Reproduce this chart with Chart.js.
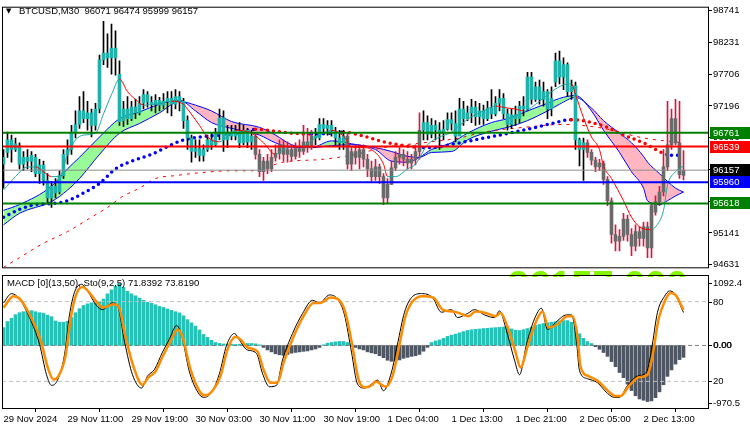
<!DOCTYPE html>
<html>
<head>
<meta charset="utf-8">
<title>BTCUSD M30</title>
<script src="https://cdn.jsdelivr.net/npm/chart.js@4.4.1/dist/chart.umd.min.js"></script>
<style>
  html, body { margin: 0; padding: 0; background: #fff; }
  #wrap { position: relative; width: 750px; height: 430px; overflow: hidden; }
  #priceCanvas { position: absolute; left: 0; top: 0; }
  #oscCanvas { position: absolute; left: 0; top: 274px; }
</style>
</head>
<body>
<div id="wrap">
  <canvas id="priceCanvas" width="750" height="274"></canvas>
  <canvas id="oscCanvas" width="750" height="156"></canvas>
</div>
<script>
// Values (BTCUSD M30, 171 bars)
const symbolTitle = 'BTCUSD,M30  96071 96474 95999 96157';
const oscTitle = 'MACD [0](13,50), Sto(9,2,5) 71.8392 73.8190';
const bigLabel = '96157.000';

const opens = [
  96256, 96444, 96647, 96491, 96553, 96256, 96365, 96303, 96365, 96100,
  96241, 95990, 95709, 95897, 95803, 96069, 96412, 96491, 96772, 96897,
  97116, 96991, 97085, 96881, 97147, 97944, 98054, 97975, 98132, 97710,
  96959, 97147, 96991, 97178, 97085, 97241, 97381, 97256, 97225, 97288,
  97210, 97272, 97319, 97225, 97350, 97272, 96959, 96678, 96459, 96506,
  96397, 96491, 96647, 96569, 96741, 97006, 96647, 96772, 96709, 96788,
  96600, 96803, 96616, 96709, 96412, 96131, 96303, 96178, 96365, 96428,
  96569, 96412, 96491, 96381, 96506, 96459, 96616, 96522, 96709, 96678,
  96897, 96834, 96881, 96788, 96678, 96600, 96709, 96256, 96459, 96365,
  96491, 96334, 96178, 96053, 96209, 96053, 95709, 95928, 96194, 96365,
  96412, 96334, 96272, 96334, 96459, 96803, 96928, 96741, 96881, 96803,
  96756, 96819, 96975, 96913, 96709, 97147, 96991, 97085, 97178, 97022,
  97116, 96991, 97163, 97069, 97241, 97319, 97069, 96897, 97053, 96991,
  97194, 97147, 97663, 97303, 97507, 97303, 97428, 97147, 97585, 97928,
  97663, 97866, 97428, 97522, 96647, 96491, 96600, 96444, 96319, 96209,
  96272, 96006, 95662, 95115, 95006, 95084, 95365, 95115, 94928, 95162,
  95053, 95240, 94896, 95475, 95647, 95803, 96209, 96569, 96991, 96600,
  96071
];
const highs = [
  96491, 96772, 96725, 96678, 96600, 96459, 96491, 96459, 96412, 96334,
  96303, 96100, 95975, 96022, 96147, 96491, 96647, 96881, 97116, 97350,
  97428, 97272, 97147, 97241, 98022, 98569, 98366, 98522, 98413, 97928,
  97272, 97350, 97272, 97303, 97350, 97460, 97428, 97350, 97381, 97335,
  97397, 97428, 97428, 97460, 97428, 97319, 97037, 96725, 96647, 96647,
  96569, 96725, 96756, 96834, 97147, 97116, 96881, 96881, 96881, 96928,
  96881, 96834, 96803, 96756, 96491, 96365, 96412, 96491, 96569, 96647,
  96647, 96616, 96569, 96600, 96647, 96881, 96834, 96803, 96834, 96991,
  96991, 96959, 96959, 96850, 96803, 96803, 96756, 96522, 96569, 96569,
  96569, 96412, 96303, 96334, 96256, 96100, 96022, 96303, 96459, 96522,
  96491, 96459, 96412, 96569, 97085, 97116, 97037, 96991, 96959, 96928,
  96959, 97085, 97085, 97116, 97319, 97272, 97194, 97303, 97272, 97241,
  97210, 97272, 97460, 97350, 97460, 97397, 97147, 97147, 97194, 97272,
  97350, 97741, 97741, 97585, 97616, 97585, 97460, 97507, 98054, 98085,
  97975, 97897, 97616, 97585, 96678, 96678, 96647, 96491, 96365, 96334,
  96303, 96053, 95709, 95271, 95193, 95459, 95428, 95209, 95271, 95240,
  95318, 95318, 95631, 95740, 95897, 96491, 97272, 97147, 97303, 97272,
  96474
];
const lows = [
  95865, 96365, 96287, 96459, 96178, 96147, 96178, 96131, 96053, 95943,
  95912, 95615, 95553, 95709, 95772, 96022, 96256, 96412, 96678, 96834,
  96928, 96803, 96694, 96803, 97085, 97866, 97819, 97710, 97694, 96881,
  96866, 96897, 96959, 96991, 97053, 97147, 97178, 97116, 97085, 97116,
  97147, 97085, 97037, 97147, 97116, 96834, 96491, 96287, 96365, 96303,
  96303, 96459, 96491, 96537, 96647, 96459, 96522, 96647, 96647, 96522,
  96569, 96522, 96491, 96334, 96053, 95990, 96100, 96131, 96303, 96334,
  96303, 96287, 96303, 96334, 96365, 96412, 96444, 96491, 96569, 96647,
  96756, 96725, 96709, 96569, 96491, 96491, 96178, 96147, 96256, 96178,
  96209, 96053, 95975, 95990, 95943, 95600, 95631, 95928, 96147, 96256,
  96225, 96178, 96178, 96241, 96334, 96647, 96647, 96678, 96647, 96491,
  96647, 96803, 96803, 96616, 96803, 96881, 96959, 96928, 96881, 96897,
  96897, 96959, 96991, 97037, 97116, 96991, 96803, 96834, 96881, 96928,
  97037, 97116, 97225, 97272, 97225, 97194, 96991, 97037, 97507, 97553,
  97460, 97350, 97303, 96491, 96225, 95990, 96365, 96241, 96131, 96147,
  95928, 95584, 94974, 94850, 94850, 95021, 95006, 94771, 94850, 94928,
  94928, 94740, 94740, 95428, 95584, 95740, 96147, 96491, 96569, 96022,
  95999
];
const closes = [
  96365, 96647, 96491, 96584, 96256, 96365, 96303, 96397, 96100, 96241,
  95990, 95709, 95897, 95787, 96069, 96412, 96491, 96772, 96897, 97116,
  96991, 97085, 96881, 97147, 97944, 98054, 97975, 98132, 97975, 96944,
  97147, 96991, 97178, 97085, 97241, 97381, 97256, 97225, 97288, 97210,
  97272, 97319, 97225, 97350, 97272, 96959, 96678, 96459, 96506, 96397,
  96491, 96647, 96569, 96741, 97006, 96647, 96772, 96709, 96788, 96600,
  96803, 96616, 96709, 96412, 96131, 96303, 96178, 96365, 96428, 96569,
  96412, 96491, 96381, 96506, 96459, 96616, 96522, 96709, 96678, 96897,
  96834, 96881, 96788, 96678, 96600, 96709, 96256, 96459, 96365, 96491,
  96334, 96178, 96053, 96209, 96053, 95709, 95928, 96194, 96365, 96412,
  96334, 96272, 96334, 96459, 96803, 96928, 96741, 96881, 96803, 96756,
  96819, 96975, 96913, 96709, 97147, 96991, 97085, 97178, 97022, 97116,
  96991, 97163, 97069, 97241, 97319, 97069, 96897, 97053, 96991, 97194,
  97147, 97663, 97303, 97507, 97303, 97428, 97147, 97319, 97928, 97663,
  97866, 97428, 97522, 96647, 96491, 96600, 96444, 96319, 96209, 96272,
  96006, 95662, 95115, 95006, 95084, 95365, 95115, 94928, 95162, 95053,
  95240, 94896, 95584, 95647, 95803, 96209, 96569, 96991, 96600, 96084,
  96157
];

// trend filter that paints the candles: [first bar, uptrend]
const trendRuns = [[0, true], [63, false], [78, true], [86, false], [105, true], [146, false]];

// indicator lines, [bar index, price]
const fastMA = [[0,95834],[3,96053],[6,96209],[8,96209],[10,96131],[12,96053],[14,96053],[16,96412],[18,96647],[20,96725],
  [23,96756],[25,97069],[27,97381],[29,97631],[31,97428],[33,97303],[35,97210],[38,97225],[42,97272],[45,97225],
  [46,97147],[49,96881],[51,96694],[54,96616],[58,96803],[62,96756],[65,96600],[68,96412],[70,96491],[73,96537],
  [75,96553],[78,96678],[82,96803],[85,96709],[87,96537],[90,96522],[92,96491],[95,96256],[96,96053],[98,96053],
  [101,96178],[103,96256],[106,96569],[109,96694],[112,96772],[114,96881],[117,97022],[120,97116],[123,97194],[126,97163],
  [128,97147],[130,97116],[134,97272],[137,97428],[140,97538],[142,97553],[143,97381],[145,97006],[147,96694],[149,96491],
  [150,96225],[152,96022],[155,95662],[157,95396],[159,95240],[162,95193],[163,95240],[165,95506],[166,95912],[168,96131],
  [170,96225]];
const bandFast = [[0,95506],[4,95600],[12,95897],[16,96178],[19,96365],[24,96694],[29,96991],[34,97100],[39,97225],[44,97288],
  [48,97116],[52,96928],[57,96834],[64,96725],[68,96600],[72,96522],[77,96522],[82,96631],[87,96584],[93,96491],
  [97,96303],[101,96287],[104,96365],[107,96491],[112,96600],[116,96756],[122,96928],[126,96991],[131,97116],[136,97241],
  [139,97319],[143,97366],[147,97116],[150,96803],[154,96444],[157,96131],[160,95865],[161,95662],[164,95600],[166,95662],
  [168,95740],[170,95803]];
const bandSlow = [[0,95271],[4,95459],[12,95647],[16,95834],[19,96022],[24,96412],[29,96756],[34,96913],[39,97085],[44,97272],
  [48,97210],[52,97116],[57,96944],[64,96850],[68,96725],[72,96569],[77,96522],[82,96553],[87,96569],[93,96522],
  [97,96459],[101,96381],[104,96365],[107,96444],[112,96459],[116,96647],[122,96788],[126,96850],[131,96959],[136,97116],
  [139,97225],[143,97335],[147,97163],[150,96959],[154,96756],[157,96600],[160,96381],[161,96287],[164,96100],[166,95975],
  [168,95865],[170,95803]];
const dotMA = [[0,95396],[4,95521],[8,95600],[12,95615],[16,95662],[20,95787],[24,95943],[28,96178],[32,96303],[37,96412],
  [41,96537],[45,96647],[49,96694],[54,96725],[59,96756],[63,96819],[66,96803],[72,96756],[77,96741],[82,96756],
  [85,96772],[90,96709],[95,96616],[102,96537],[105,96522],[109,96537],[114,96600],[119,96662],[124,96725],[132,96834],
  [137,96913],[142,96975],[145,96959],[147,96928],[151,96850],[155,96725],[160,96600],[164,96459],[167,96397],[170,96397]];
const longMA = [[0,94584],[4,94740],[10,94974],[16,95162],[22,95396],[26,95553],[30,95740],[34,95865],[38,96022],[43,96069],
  [49,96115],[57,96147],[62,96147],[70,96287],[80,96334],[88,96412],[95,96522],[107,96616],[114,96678],[120,96772],
  [130,96850],[140,96897],[150,96834],[160,96678],[170,96600]];

const levelValues = [96761, 96539, 96157, 95960, 95618];
const priceTicks = [98741, 98231, 97706, 97196, 96686, 96161, 95651, 95141, 94631];

const macdHist = [
  277, 370, 420, 477, 508, 523, 530, 539, 523, 508,
  500, 470, 446, 380, 360, 360, 375, 431, 508, 570,
  620, 645, 662, 662, 677, 720, 800, 862, 920, 965,
  900, 840, 800, 770, 735, 700, 670, 655, 631, 605,
  590, 565, 545, 523, 505, 460, 400, 350, 300, 240,
  170, 125, 80, 46, 31, 23, 20, 18, 15, 18,
  25, 30, 30, 25, 10, -31, -70, -100, -130, -145,
  -154, -140, -120, -108, -100, -92, -85, -70, -55, -31,
  10, 35, 46, 55, 62, 62, 45, 20, -31, -55,
  -70, -100, -115, -130, -160, -190, -230, -246, -240, -225,
  -200, -185, -170, -160, -140, -90, -30, 45, 70, 85,
  110, 140, 160, 175, 195, 215, 232, 242, 250, 255,
  262, 266, 272, 276, 280, 285, 292, 256, 235, 232,
  245, 262, 282, 310, 325, 340, 352, 360, 368, 380,
  385, 385, 360, 290, 180, 110, 60, 30, -20, -60,
  -110, -170, -250, -330, -420, -500, -600, -700, -780, -830,
  -850, -870, -860, -810, -720, -610, -480, -380, -290, -220,
  -185
];
const macdRange = [-970.5, 1092.4];

// stochastic, [bar index, value]
const stochMain = [[0,79],[2,86],[4,82],[6.5,68],[9,48],[10.75,25],[12,17],[13.5,21],[15.25,40],[16.5,70],
  [17.75,87],[19.5,93],[21,88],[23.25,77],[24.75,74],[27.25,79],[28.5,77],[30.25,50],[32.25,25],[34.5,15],
  [36,24],[37.75,29],[39.75,42],[41.5,52],[43.25,62],[44.5,55],[46.5,27],[49,10],[50.25,8],[52.25,13],
  [54,26],[55.75,47],[57.75,56],[59,51],[60.75,44],[63.25,41],[64.75,26],[66.5,16],[68.25,17],[69.75,36],
  [72.25,56],[74.75,71],[77.25,81],[79,79],[81.5,85],[83.5,82],[85.25,70],[87,42],[88.5,18],[90.25,15],
  [92,18],[93.5,21],[95,13],[97,27],[98.5,48],[100.25,72],[102,83],[104.5,86],[107.25,83],[109.5,72],
  [112,74],[113.5,68],[116,71],[117.75,74],[120.25,70],[122.75,68],[124,73],[125.75,58],[127.75,36],[129,25],
  [130.75,48],[132.75,67],[134.5,75],[136,59],[138.25,65],[140.75,70],[142,70],[143.25,50],[144,28],[146,22],
  [148.5,19],[151,11],[152.75,8],[154,8],[156,17],[158.5,24],[160.75,27],[162,44],[163.5,72],[165.25,84],
  [166.5,88],[167.75,86],[170,71.8]];
const stochSignal = [[0,75.5],[2.5,84],[4.25,81.5],[6.75,69],[9.25,51.5],[11,31],[12.5,21.5],[13.75,24],[15.5,39],[16.75,66.5],
  [18,84],[19.75,91],[21.25,87.5],[23.5,79],[25,75.5],[27.5,78],[28.75,76.5],[30.5,53.5],[32.5,31],[34.75,17.5],
  [36.25,23],[38,27.5],[40,40],[41.75,50],[43.5,59],[44.75,53.5],[46.75,29],[49.25,11.5],[50.5,9.5],[52.5,14],
  [54.25,24],[56,44],[58,53.5],[59.25,51.5],[61,45.5],[63.5,42.5],[65,29],[66.75,19],[68.5,19],[70,34],
  [72.5,53.5],[75,69],[77.5,79],[79.25,79],[81.75,83],[83.75,81.5],[85.5,71.5],[87.25,46],[88.75,21.5],[90.5,15.5],
  [92.25,17.5],[93,20],[95.5,16],[97.25,24],[98.75,44],[100.5,69],[102.25,80],[104.75,84],[107.5,83],[109.75,74],
  [112.25,72.5],[113.75,71.5],[116.25,69],[118,72.5],[120.5,71.5],[123,69],[124.25,71.5],[126,61],[128,42],[129.25,30.5],
  [131,46],[133,64],[134.75,72.5],[136.25,60.5],[138.5,63],[141,69],[142.25,69],[143.5,53.5],[144.25,31],[146.25,24],
  [148.75,20],[151.25,12.5],[153,9],[154.25,9],[156.25,16],[158.75,23],[161,25],[162.25,39],[163.75,66.5],[165.5,81.5],
  [166.75,86.5],[168,85],[170,73.8]];
const stochLevels = [80, 20];

const timeLabels = ['29 Nov 2024', '29 Nov 11:00', '29 Nov 19:00', '30 Nov 03:00', '30 Nov 11:00', '30 Nov 19:00',
  '1 Dec 04:00', '1 Dec 13:00', '1 Dec 21:00', '2 Dec 05:00', '2 Dec 13:00'];
const timeTickIdx = [0, 16, 32, 48, 64, 80, 96, 112, 128, 144, 160];

// ---- styling ----
const FONT_FAMILY = '"Liberation Sans", Arial, sans-serif';
const FONT_SIZE = 9.5;
const TEAL = '#20b2aa', DIM = '#6a6a6a', CRIMSON = '#dc143c';
const levelColors = ['#008000', '#ff0000', '#8c8c8c', '#0000ff', '#008000'];
const levelWidths = [2, 2, 1, 2, 2];
const levelBoxColors = ['#008000', '#ff0000', '#000000', '#0000ff', '#008000'];
const X_MIN = -0.375, X_MAX = 176.125;
const BIG_FONT = 'bold 38px "Liberation Sans", Arial, sans-serif';
const BIG_TOP = 269; // page y of the clipped lime label's top

const pts = arr => arr.map(([x, y]) => ({ x, y }));

function isUp(i) {
  let up = true;
  trendRuns.forEach(([start, flag]) => { if (i >= start) up = flag; });
  return up;
}

// big lime label that MT4 left mostly outside the visible window
function drawBigLabel(ctx, offsetY, clipTop, clipBottom) {
  ctx.save();
  ctx.beginPath();
  ctx.rect(2, clipTop, 706, clipBottom - clipTop);
  ctx.clip();
  ctx.font = BIG_FONT;
  ctx.fillStyle = '#84f500';
  ctx.textBaseline = 'top';
  ctx.fillText(bigLabel, 508, BIG_TOP - offsetY);
  ctx.restore();
}

// ---- price window ----
const priceDecor = {
  id: 'priceDecor',
  afterDraw(chart) {
    const { ctx, chartArea: a, scales } = chart;
    drawBigLabel(ctx, 0, 262, 274);
    ctx.save();
    ctx.strokeStyle = '#000';
    ctx.lineWidth = 1;
    ctx.strokeRect(a.left + 0.5, a.top + 0.5, a.right - a.left, a.bottom - a.top);

    ctx.fillStyle = '#000';
    ctx.textBaseline = 'middle';
    ctx.font = '7px "DejaVu Sans", sans-serif';
    ctx.fillText('\u25BC', 6, 11);
    ctx.font = FONT_SIZE + 'px ' + FONT_FAMILY;
    ctx.fillText(symbolTitle, 19, 11);

    levelValues.forEach((v, k) => {
      const y = Math.round(scales.y.getPixelForValue(v));
      ctx.fillStyle = levelBoxColors[k];
      ctx.fillRect(710, y - 6, 40, 12);
      ctx.fillStyle = '#fff';
      ctx.fillText(String(v), 713, y + 0.5);
    });
    ctx.restore();
  }
};

const levelSets = levelValues.map((v, k) => ({
  type: 'line',
  data: [{ x: X_MIN, y: v }, { x: X_MAX, y: v }],
  borderColor: levelColors[k],
  borderWidth: levelWidths[k],
  pointRadius: 0,
  order: 1
}));

new Chart(document.getElementById('priceCanvas'), {
  type: 'bar',
  data: {
    datasets: [
      {
        type: 'line', data: pts(bandFast), borderColor: '#0000ff', borderWidth: 1, pointRadius: 0,
        cubicInterpolationMode: 'monotone',
        fill: { target: '+1', above: 'rgb(152,251,152)', below: 'rgb(255,182,193)' }, order: 30
      },
      {
        type: 'line', data: pts(bandSlow), borderColor: '#0000ff', borderWidth: 1, pointRadius: 0,
        cubicInterpolationMode: 'monotone', fill: false, order: 29
      },
      {
        type: 'line', data: pts(longMA), borderColor: '#ff0000', borderWidth: 1, borderDash: [3, 5],
        pointRadius: 0, cubicInterpolationMode: 'monotone', fill: false, order: 28
      },
      {
        type: 'line', data: pts(dotMA), borderColor: '#0000ff', borderWidth: 3.5, borderDash: [0, 6],
        borderCapStyle: 'round', pointRadius: 0, cubicInterpolationMode: 'monotone', fill: false,
        segment: { borderColor: c => (c.p1.parsed.y >= c.p0.parsed.y ? '#0000ff' : '#ff0000') },
        order: 27
      },
      {
        data: opens.map((o, i) => ({ x: i, y: [lows[i], highs[i]] })),
        backgroundColor: c => (isUp(c.dataIndex) ? '#000' : CRIMSON),
        barThickness: 1, grouped: false, borderWidth: 0, order: 20
      },
      {
        data: opens.map((o, i) => ({ x: i, y: [o, closes[i]] })),
        backgroundColor: c => (isUp(c.dataIndex) ? TEAL : DIM),
        barThickness: 3, minBarLength: 1, grouped: false, borderWidth: 0, order: 19
      },
      {
        type: 'line', data: pts(fastMA), borderColor: TEAL, borderWidth: 1, pointRadius: 0,
        cubicInterpolationMode: 'monotone', fill: false,
        segment: { borderColor: c => (c.p1.parsed.y >= c.p0.parsed.y ? '#1ea79f' : '#ff0000') },
        order: 10
      },
      ...levelSets
    ]
  },
  options: {
    responsive: false,
    animation: false,
    layout: { padding: { left: 2, top: 2, right: 0, bottom: 2 } },
    plugins: { legend: { display: false }, tooltip: { enabled: false } },
    scales: {
      x: { type: 'linear', min: X_MIN, max: X_MAX, offset: false, display: false },
      y: {
        position: 'right', min: 94584, max: 98804,
        afterBuildTicks: s => { s.ticks = priceTicks.map(v => ({ value: v })); },
        afterFit: s => { s.width = 42; },
        ticks: {
          autoSkip: false, padding: 1, color: '#000',
          font: { family: FONT_FAMILY, size: FONT_SIZE },
          callback: v => String(v)
        },
        grid: { drawOnChartArea: false, tickLength: 4, color: '#000' },
        border: { display: false }
      }
    }
  },
  plugins: [priceDecor]
});

// ---- MACD / stochastic window ----
const oscDecor = {
  id: 'oscDecor',
  afterDraw(chart) {
    const { ctx, chartArea: a, scales } = chart;
    drawBigLabel(ctx, 274, 0, 3);
    ctx.save();
    ctx.strokeStyle = '#000';
    ctx.lineWidth = 1;
    ctx.strokeRect(a.left + 0.5, a.top + 0.5, a.right - a.left, a.bottom - a.top);

    ctx.fillStyle = '#000';
    ctx.textBaseline = 'middle';
    ctx.font = FONT_SIZE + 'px ' + FONT_FAMILY;
    ctx.fillText(oscTitle, 7, 9.5);

    const marks = [
      [a.top + 7.5, macdRange[1].toFixed(1)],
      [scales.yS.getPixelForValue(stochLevels[0]), String(stochLevels[0])],
      [scales.yM.getPixelForValue(0), '0.00'],
      [scales.yS.getPixelForValue(stochLevels[1]), String(stochLevels[1])],
      [a.bottom - 5, macdRange[0].toFixed(1)]
    ];
    marks.forEach(([y, txt]) => {
      const yy = Math.round(y);
      ctx.fillRect(a.right, yy, 4, 1);
      ctx.fillText(txt, 713, yy + 0.5);
    });
    // MT4 prints the zero label twice (MACD and its signal)
    ctx.fillText('0.00', 713.6, Math.round(scales.yM.getPixelForValue(0)) + 0.5);
    ctx.restore();
  }
};

new Chart(document.getElementById('oscCanvas'), {
  type: 'bar',
  data: {
    datasets: [
      {
        data: macdHist.map((v, i) => ({ x: i, y: v })),
        yAxisID: 'yM',
        backgroundColor: c => (macdHist[c.dataIndex] >= 0 ? '#27c2b7' : '#4f5764'),
        barThickness: 3, grouped: false, borderWidth: 0, order: 5
      },
      {
        type: 'line', yAxisID: 'yM', data: [{ x: X_MIN, y: 0 }, { x: X_MAX, y: 0 }],
        borderColor: '#808080', borderWidth: 1, borderDash: [4, 3], pointRadius: 0, order: 4
      },
      ...stochLevels.map(v => ({
        type: 'line', yAxisID: 'yS', data: [{ x: X_MIN, y: v }, { x: X_MAX, y: v }],
        borderColor: '#c0c0c0', borderWidth: 1, borderDash: [4, 3], pointRadius: 0, order: 4
      })),
      {
        type: 'line', yAxisID: 'yS', data: pts(stochMain), borderColor: '#000', borderWidth: 1,
        pointRadius: 0, cubicInterpolationMode: 'monotone', fill: false, order: 2
      },
      {
        type: 'line', yAxisID: 'yS', data: pts(stochSignal), borderColor: '#ff8c00', borderWidth: 2.5,
        pointRadius: 0, cubicInterpolationMode: 'monotone', fill: false, order: 1
      }
    ]
  },
  options: {
    responsive: false,
    animation: false,
    layout: { padding: { left: 2, top: 1, right: 0, bottom: 0 } },
    plugins: { legend: { display: false }, tooltip: { enabled: false } },
    scales: {
      x: {
        type: 'linear', min: X_MIN, max: X_MAX, offset: false, position: 'bottom',
        afterBuildTicks: s => { s.ticks = timeTickIdx.map(v => ({ value: v })); },
        afterFit: s => { s.height = 22; },
        ticks: {
          autoSkip: false, maxRotation: 0, align: 'start', padding: 2, color: '#000',
          font: { family: FONT_FAMILY, size: FONT_SIZE },
          callback: v => timeLabels[timeTickIdx.indexOf(v)]
        },
        grid: { drawOnChartArea: false, tickLength: 4, color: '#000' },
        border: { display: false }
      },
      yS: {
        position: 'right', min: 0, max: 100,
        afterFit: s => { s.width = 42; },
        ticks: { display: false },
        grid: { display: false },
        border: { display: false }
      },
      yM: { display: false, min: macdRange[0], max: macdRange[1] }
    }
  },
  plugins: [oscDecor]
});
</script>
</body>
</html>
